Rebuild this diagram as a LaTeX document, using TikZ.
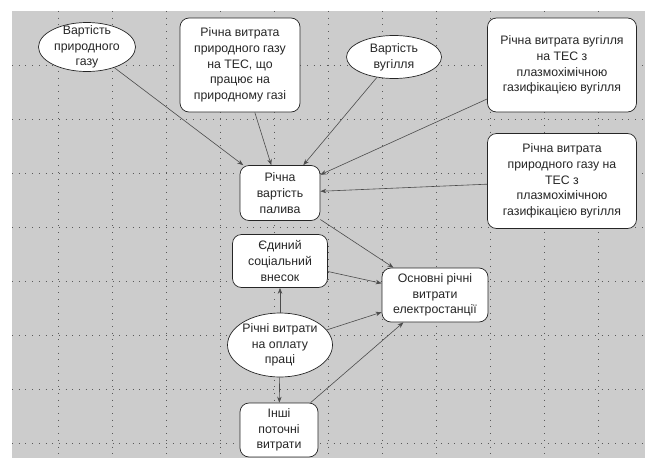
\documentclass[tikz,border=0pt]{standalone}
\usepackage{fontspec}
\setmainfont{Liberation Sans}
\usetikzlibrary{shapes.geometric,arrows.meta}
\begin{document}
\begin{tikzpicture}[x=1pt,y=-1pt,>={Stealth[length=6pt,width=4.5pt]}, font=\fontsize{12.3}{15.8}\selectfont, line join=round,
	rbox/.style={draw=black!85, fill=white, rounded corners=9pt, line width=0.7pt, align=center, inner sep=0pt, text=black!85},
	ellip/.style={draw=black!85, fill=white, ellipse, line width=0.7pt, inner sep=0pt},
	link/.style={->, draw=black!70, line width=0.6pt}]
		\def\xmin{12} \def\xmax{645}
		\def\ymin{11} \def\ymax{458} % поле
		\useasboundingbox (0,0) rectangle (645,458);
		\fill[black!20] (\xmin,\ymin) rectangle (\xmax,\ymax);
		\foreach \x in {58,112,...,600} \draw[black!65,dash pattern=on 0.9pt off 5.8pt] (\x,\ymin)--(\x,\ymax);
		\foreach \y in {65,119,...,450} \draw[black!65,dash pattern=on 0.9pt off 5.8pt] (\xmin,\y)--(\xmax,\y);
		% вузли
		\node[ellip, minimum width=97, minimum height=49] (gasprice) at (87,47) {};
		\node[align=center, text=black!85] (gaspricet) at (gasprice) {Вартість\\природного\\газу};
		\node[rbox, minimum width=120, minimum height=94] (gasuse) at (240,65) {Річна витрата\\природного газу\\на ТЕС, що\\працює на\\природному газі};
		\node[ellip, minimum width=95, minimum height=43] (coalprice) at (394,57) {};
		\node[align=center, text=black!85] (coalpricet) at (coalprice) {Вартість\\вугілля};
		\node[rbox, minimum width=149, minimum height=94] (coaluse) at (562,65) {Річна витрата вугілля\\на ТЕС з\\плазмохімічною\\газифікацією вугілля};
		\node[rbox, minimum width=149, minimum height=95] (gasplasma) at (562,181) {Річна витрата\\природного газу на\\ТЕС з\\плазмохімічною\\газифікацією вугілля};
		\node[rbox, minimum width=80, minimum height=55] (fuel) at (280,193) {Річна\\вартість\\палива};
		\node[rbox, minimum width=95, minimum height=53] (social) at (280,261) {Єдиний\\соціальний\\внесок};
		\node[rbox, minimum width=106, minimum height=54] (total) at (435,295) {Основні річні\\витрати\\електростанції};
		\node[ellip, minimum width=105, minimum height=64] (wages) at (280,345) {};
		\node[align=center, text=black!85] (wagest) at (wages) {Річні витрати\\на оплату\\праці};
		\node[rbox, minimum width=78, minimum height=54] (other) at (279,430) {Інші\\поточні\\витрати};
		% зв'язки
		\draw[link] (gasprice)--(fuel);
		\draw[link] (gasuse)--(fuel);
		\draw[link] (coalprice)--(fuel);
		\draw[link] (coaluse)--(fuel);
		\draw[link] (gasplasma)--(fuel);
		\draw[link] (fuel)--(total);
		\draw[link] (social)--(total);
		\draw[link] (wages)--(total);
		\draw[link] (wages)--(social);
		\draw[link] (wages)--(other);
		\draw[link] (other)--(total);
\end{tikzpicture}
\end{document}
